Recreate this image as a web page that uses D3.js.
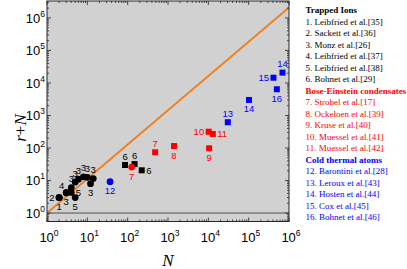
<!DOCTYPE html>
<html><head><meta charset="utf-8">
<script src="https://cdn.jsdelivr.net/npm/d3@7"></script>
<style>body{margin:0;background:#fff}svg{display:block}</style>
</head><body>
<svg id="c" width="407" height="269"></svg>
<script>
// ---------- data ----------
// [reference label, N, r+N]
const ionCircles = [
  ["1", 2, 3], ["2", 2, 3],
  ["3", 2, 3], ["3", 3, 4.2], ["3", 4, 6], ["3", 5, 9], ["3", 6, 11],
  ["3", 8, 13], ["3", 10, 12.5], ["3", 12, 8], ["3", 14, 11.5],
  ["4", 3, 4.2],
  ["5", 4, 4.3], ["5", 5, 3]
];
const ionCircleSides = ["below","left","none","below","above","above","above","above","above","below","above","aboveleft","right","below"];
const ionSquares = [["6", 86, 30], ["6", 148, 32], ["6", 223, 20.6]];
const ionSquareSides = ["above","above","right"];

const becCircles = [["7", 126, 26]];
const becCircleSides = ["below"];
const becSquares = [["7", 480, 74], ["8", 1410, 115], ["9", 10450, 98], ["10", 10200, 317], ["11", 12900, 270]];
const becSquareSides = ["above","below","below","left","right"];

const coldCircles = [["12", 36.6, 9.2]];
const coldCircleSides = ["below"];
const coldSquares = [["13", 30400, 620], ["14", 102000, 3000], ["14", 690000, 20800], ["15", 412000, 14500], ["16", 500000, 6400]];
const coldSquareSides = ["above","below","above","left","below"];

const boundLine = [[1, 1], [1e6, 2.1e6]];

const xTickExps = [0, 1, 2, 3, 4, 5, 6];
const yTickExps = [0, 1, 2, 3, 4, 5, 6];

const legendIons = ["1. Leibfried et al.[35]", "2. Sackett et al.[36]", "3. Monz et al.[26]", "4. Leibfried et al.[37]", "5. Leibfried et al.[38]", "6. Bohnet et al.[29]"];
const legendBec = ["7. Strobel et al.[17]", "8. Ockeloen et al.[39]", "9. Kruse et al.[40]", "10. Muessel et al.[41]", "11. Muessel et al.[42]"];
const legendCold = ["12. Barontini et al.[28]", "13. Leroux et al.[43]", "14. Hosten et al.[44]", "15. Cox et al.[45]", "16. Bohnet et al.[46]"];
const legendHeads = ["Trapped Ions", "Bose-Einstein condensates", "Cold thermal atoms"];

// ---------- layout ----------
const L = 47, R = 289, T = 1, B = 221.5;
const BLACK = "#000", RED = "#ff0000", BLUE = "#0000ff", ORANGE = "#f0801e";
const svg = d3.select("#c");
const x = d3.scaleLog().domain([1, 1e6]).range([L, R]);
const y = d3.scaleLog().domain([Math.pow(10, -0.26), Math.pow(10, 6.52)]).range([B, T]);

svg.append("defs").append("clipPath").attr("id", "clip")
  .append("rect").attr("x", L).attr("y", T).attr("width", R - L).attr("height", B - T);

svg.append("rect").attr("x", L).attr("y", T).attr("width", R - L).attr("height", B - T).attr("fill", "#d1d1d1");

// line at r+N = 1
svg.append("line").attr("x1", L).attr("x2", R).attr("y1", y(1)).attr("y2", y(1))
  .attr("stroke", "#505050").attr("stroke-width", 1);

// bound line
svg.append("path").datum(boundLine).attr("clip-path", "url(#clip)")
  .attr("d", d3.line().x(d => x(d[0])).y(d => y(d[1])))
  .attr("fill", "none").attr("stroke", ORANGE).attr("stroke-width", 2);

const g = svg.append("g").attr("clip-path", "url(#clip)");
const lab = svg.append("g").attr("font-family", "Liberation Sans, Arial, sans-serif").attr("font-size", 9.5);

function draw(points, sides, shape, color) {
  points.forEach((p, i) => {
    const px = x(p[1]), py = y(p[2]);
    if (shape === "circle") {
      g.append("circle").attr("cx", px).attr("cy", py).attr("r", 3.4).attr("fill", color);
    } else {
      g.append("rect").attr("x", px - 3).attr("y", py - 3).attr("width", 6).attr("height", 6).attr("fill", color);
    }
    const s = sides[i];
    if (s === "none") return;
    const t = lab.append("text").attr("fill", color).text(p[0]);
    if (s === "below") t.attr("x", px).attr("y", py + 12.5).attr("text-anchor", "middle");
    else if (s === "above") t.attr("x", px).attr("y", py - 5.5).attr("text-anchor", "middle");
    else if (s === "left") t.attr("x", px - 4.5).attr("y", py + 3.5).attr("text-anchor", "end");
    else if (s === "right") t.attr("x", px + 4.5).attr("y", py + 3.5).attr("text-anchor", "start");
    else if (s === "aboveleft") t.attr("x", px - 2).attr("y", py - 4).attr("text-anchor", "end");
  });
}
draw(ionCircles, ionCircleSides, "circle", BLACK);
draw(ionSquares, ionSquareSides, "square", BLACK);
draw(becCircles, becCircleSides, "circle", RED);
draw(becSquares, becSquareSides, "square", RED);
draw(coldCircles, coldCircleSides, "circle", BLUE);
draw(coldSquares, coldSquareSides, "square", BLUE);

// frame
svg.append("rect").attr("x", L).attr("y", T).attr("width", R - L).attr("height", B - T)
  .attr("fill", "none").attr("stroke", "#262626").attr("stroke-width", 1);

// ticks
const tk = svg.append("g").attr("stroke", "#262626").attr("stroke-width", 0.8);
function minors(exps, scale) {
  const out = [];
  const [d0, d1] = scale.domain();
  for (let e = Math.min(...exps) - 1; e <= Math.max(...exps); e++)
    for (let m = 2; m <= 9; m++) { const v = m * Math.pow(10, e); if (v > d0 && v < d1) out.push(v); }
  return out;
}
xTickExps.forEach(e => {
  const px = x(Math.pow(10, e));
  tk.append("line").attr("x1", px).attr("x2", px).attr("y1", B).attr("y2", B - 4);
  tk.append("line").attr("x1", px).attr("x2", px).attr("y1", T).attr("y2", T + 4);
});
minors(xTickExps, x).forEach(v => {
  const px = x(v);
  tk.append("line").attr("x1", px).attr("x2", px).attr("y1", B).attr("y2", B - 2);
  tk.append("line").attr("x1", px).attr("x2", px).attr("y1", T).attr("y2", T + 2);
});
yTickExps.forEach(e => {
  const py = y(Math.pow(10, e));
  tk.append("line").attr("x1", L).attr("x2", L + 4).attr("y1", py).attr("y2", py);
  tk.append("line").attr("x1", R).attr("x2", R - 4).attr("y1", py).attr("y2", py);
});
minors(yTickExps, y).forEach(v => {
  const py = y(v);
  tk.append("line").attr("x1", L).attr("x2", L + 2).attr("y1", py).attr("y2", py);
  tk.append("line").attr("x1", R).attr("x2", R - 2).attr("y1", py).attr("y2", py);
});

// tick labels
const tl = svg.append("g").attr("font-family", "Liberation Sans, Arial, sans-serif").attr("fill", "#000");
xTickExps.forEach(e => {
  const t = tl.append("text").attr("x", x(Math.pow(10, e)) + 2).attr("y", 241.5).attr("text-anchor", "middle").attr("font-size", 13);
  t.append("tspan").text("10");
  t.append("tspan").attr("font-size", 8.5).attr("dy", -6).text(String(e));
});
yTickExps.forEach(e => {
  const t = tl.append("text").attr("x", 45).attr("y", y(Math.pow(10, e)) + 4.7).attr("text-anchor", "end").attr("font-size", 13);
  t.append("tspan").text("10");
  t.append("tspan").attr("font-size", 8.5).attr("dy", -6).text(String(e));
});

// axis titles
svg.append("text").attr("x", (L + R) / 2).attr("y", 266).attr("text-anchor", "middle")
  .attr("font-family", "Liberation Serif, Times New Roman, serif").attr("font-style", "italic").attr("font-size", 17).text("N");
const yt = svg.append("text").attr("transform", "translate(26,128) rotate(-90)").attr("text-anchor", "middle")
  .attr("font-family", "Liberation Serif, Times New Roman, serif").attr("font-size", 17);
yt.append("tspan").attr("font-style", "italic").text("r");
yt.append("tspan").text("+");
yt.append("tspan").attr("font-style", "italic").text("N");

// legend
const lg = svg.append("g").attr("font-family", "Liberation Serif, Times New Roman, serif").attr("font-size", 9);
const rows = [];
rows.push({t: legendHeads[0], c: BLACK, b: true});
legendIons.forEach(s => rows.push({t: s, c: BLACK}));
rows.push({t: legendHeads[1], c: RED, b: true});
legendBec.forEach(s => rows.push({t: s, c: RED}));
rows.push({t: legendHeads[2], c: BLUE, b: true});
legendCold.forEach(s => rows.push({t: s, c: BLUE}));
rows.forEach((r, i) => {
  lg.append("text").attr("x", 305.5).attr("y", 13 + i * 11.5).attr("fill", r.c)
    .attr("font-weight", r.b ? "bold" : "normal").text(r.t);
});
</script>
</body></html>
